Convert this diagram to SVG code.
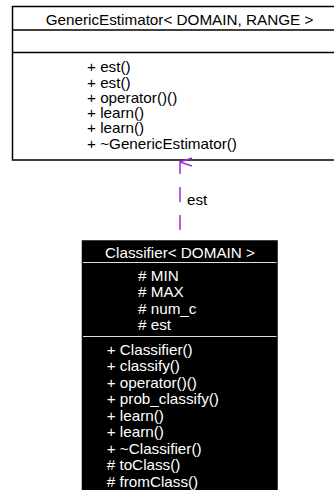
<svg xmlns="http://www.w3.org/2000/svg" width="334" height="490" viewBox="0 0 334 490">
  <style>
    text { font-family: "Liberation Sans", Arial, Helvetica, sans-serif; font-size: 14px; }
    .dark { fill: #000000; }
    .light { fill: #ffffff; }
    .box { fill: #ffffff; stroke: #000000; stroke-width: 1.5; }
    .boxdark { fill: #000000; stroke: #000000; stroke-width: 1.5; }
    .sep { stroke: #000000; stroke-width: 1.5; }
    .sepdark { stroke: #e0e0e0; stroke-width: 1.2; }
    .use { fill: none; stroke: #9a32cd; stroke-width: 1.5; }
  </style>
  <defs>
    <marker id="openArrow" viewBox="0 0 10 14" refX="5" refY="1" markerWidth="10" markerHeight="14" markerUnits="userSpaceOnUse" orient="auto-start-reverse">
      <path d="M1,13 L5,1 L9,13" fill="none" stroke="#9a32cd" stroke-width="1.5"/>
    </marker>
  </defs>

  <!-- Base template class -->
  <g id="GenericEstimator">
    <rect class="box" x="12.5" y="6.5" width="340" height="153.5"/>
    <line class="sep" x1="12.5" y1="30" x2="352" y2="30"/>
    <line class="sep" x1="12.5" y1="52.5" x2="352" y2="52.5"/>
    <g transform="translate(179.5,25) scale(1.09,1)">
      <text class="dark" x="0" y="0" text-anchor="middle">GenericEstimator&lt; DOMAIN, RANGE &gt;</text>
    </g>
    <g transform="translate(87,0) scale(1.09,1)">
      <text class="dark" x="0" y="72.3">+ est()</text>
      <text class="dark" x="0" y="87.6">+ est()</text>
      <text class="dark" x="0" y="102.9">+ operator()()</text>
      <text class="dark" x="0" y="118.2">+ learn()</text>
      <text class="dark" x="0" y="133.5">+ learn()</text>
      <text class="dark" x="0" y="148.8">+ ~GenericEstimator()</text>
    </g>
  </g>

  <!-- Usage relation -->
  <g id="connectors">
    <line class="use" x1="180" y1="230" x2="180" y2="162" stroke-dasharray="15 13" marker-end="url(#openArrow)"/>
    <g transform="translate(187,205) scale(1.09,1)">
      <text class="dark" x="0" y="0">est</text>
    </g>
  </g>

  <!-- Derived class -->
  <g id="Classifier">
    <rect class="boxdark" x="82.5" y="241" width="194.5" height="260"/>
    <line class="sepdark" x1="83" y1="262.5" x2="276.5" y2="262.5"/>
    <line class="sepdark" x1="83" y1="336.5" x2="276.5" y2="336.5"/>
    <g transform="translate(180,257.5) scale(1.09,1)">
      <text class="light" x="0" y="0" text-anchor="middle">Classifier&lt; DOMAIN &gt;</text>
    </g>
    <g transform="translate(138,0) scale(1.09,1)">
      <text class="light" x="0" y="281"># MIN</text>
      <text class="light" x="0" y="297.5"># MAX</text>
      <text class="light" x="0" y="314"># num_c</text>
      <text class="light" x="0" y="330.5"># est</text>
    </g>
    <g transform="translate(106.7,0) scale(1.09,1)">
      <text class="light" x="0" y="355">+ Classifier()</text>
      <text class="light" x="0" y="371.5">+ classify()</text>
      <text class="light" x="0" y="388">+ operator()()</text>
      <text class="light" x="0" y="404.5">+ prob_classify()</text>
      <text class="light" x="0" y="421">+ learn()</text>
      <text class="light" x="0" y="437.5">+ learn()</text>
      <text class="light" x="0" y="454">+ ~Classifier()</text>
      <text class="light" x="0" y="470.5"># toClass()</text>
      <text class="light" x="0" y="487"># fromClass()</text>
    </g>
  </g>
</svg>
